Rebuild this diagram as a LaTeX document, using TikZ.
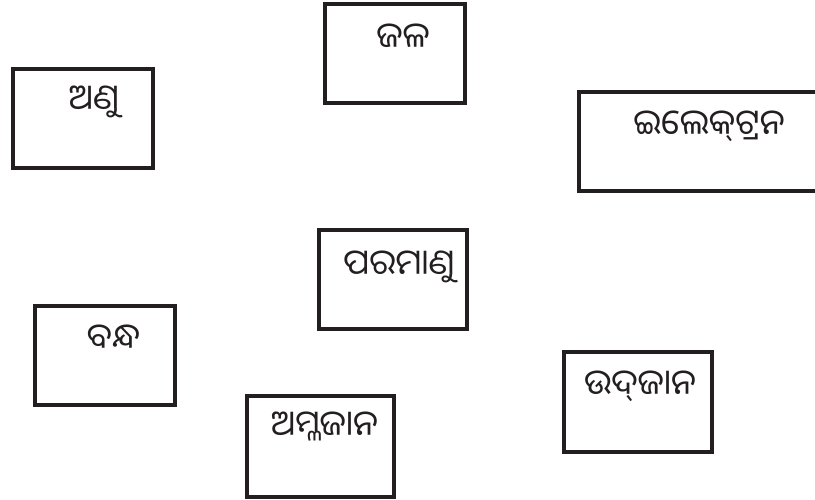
\documentclass[tikz,border=0pt]{standalone}
\usepackage{fontspec}
\newfontfamily\odia[Script=Oriya]{Noto Sans Oriya UI}
\definecolor{ink}{HTML}{231F20}
\tikzset{
  wordbox/.style={draw=ink, line width=4pt, rectangle, inner sep=0pt},
  word/.style={font=\odia\fontsize{35}{42}\selectfont, text=ink, inner sep=0pt, anchor=base}
}
\begin{document}
\begin{tikzpicture}[x=1pt,y=-1pt]
\useasboundingbox (0,0) rectangle (815,499);
\begin{scope}
\clip (0,0) rectangle (815,499);
% boxes
\node[wordbox, minimum width=140pt, minimum height=99pt] (b1) at (83,118.5) {};
\node[wordbox, minimum width=140pt, minimum height=99pt] (b2) at (395,53.5) {};
\node[wordbox, minimum width=260pt, minimum height=99pt, anchor=north west] (b3) at (577,90) {};
\node[wordbox, minimum width=148pt, minimum height=99pt] (b4) at (393,279.5) {};
\node[wordbox, minimum width=140pt, minimum height=99pt] (b5) at (105,355.5) {};
\node[wordbox, minimum width=147pt, minimum height=101pt] (b6) at (320.5,446.5) {};
\node[wordbox, minimum width=148pt, minimum height=100pt] (b7) at (638,402) {};
\end{scope}
% words
\node[word] (t1) at (94,112) {ଅଣୁ};
\node[word] (t2) at (403,50) {ଜଳ};
\node[word] (t3) at (709,137) {ଇଲେକ୍‌ଟ୍ରନ};
\node[word] (t4) at (399,277) {ପରମାଣୁ};
\node[word] (t5) at (113.5,351) {ବନ୍ଧ};
\node[word] (t6) at (324.5,438) {ଅମ୍ଳଜାନ};
\node[word] (t7) at (640,397) {ଉଦ୍‌ଜାନ};
\end{tikzpicture}
\end{document}
